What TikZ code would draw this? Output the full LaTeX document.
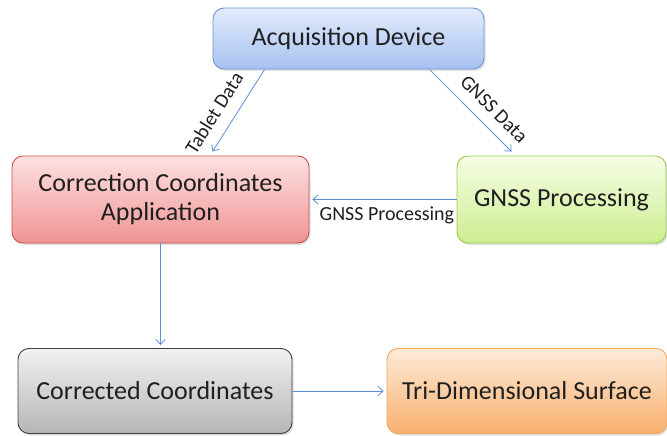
\documentclass[tikz,border=0pt]{standalone}
\usepackage{fontspec}
\setmainfont{Carlito}
\usetikzlibrary{shadows,arrows.meta,calc}
\definecolor{txt}{HTML}{1F1F1F}
\definecolor{arr}{HTML}{5B8FD5}
\tikzset{
  box/.style={draw, line width=0.9pt, rounded corners=11pt, align=center,
    font=\fontsize{26}{29}\selectfont, text=txt,
    drop shadow={shadow xshift=1.5pt, shadow yshift=-2pt, opacity=0.25}},
  bluebox/.style={box, top color={rgb,255:red,226;green,235;blue,251}, bottom color={rgb,255:red,167;green,194;blue,241}, draw={rgb,255:red,111;green,151;blue,214}},
  redbox/.style={box, top color={rgb,255:red,253;green,225;blue,225}, bottom color={rgb,255:red,240;green,148;blue,148}, draw={rgb,255:red,200;green,80;blue,80}},
  greenbox/.style={box, top color={rgb,255:red,246;green,253;blue,230}, bottom color={rgb,255:red,205;green,238;blue,144}, draw={rgb,255:red,155;green,203;blue,75}},
  graybox/.style={box, top color={rgb,255:red,242;green,242;blue,242}, bottom color={rgb,255:red,181;green,181;blue,181}, draw={rgb,255:red,64;green,64;blue,64}},
  orangebox/.style={box, top color={rgb,255:red,254;green,235;blue,217}, bottom color={rgb,255:red,249;green,176;blue,110}, draw={rgb,255:red,242;green,165;blue,97}},
  conn/.style={draw=arr, line width=0.8pt, -{Straight Barb[length=5pt,width=9pt]}},
  lbl/.style={font=\fontsize{20}{22}\selectfont, text=txt, inner sep=2pt}
}
\begin{document}
\begin{tikzpicture}[x=1pt,y=-1pt]
\useasboundingbox (0,0) rectangle (667,436);
\node[bluebox, minimum width=271pt, minimum height=61pt] (acq) at (348.5,38.5) {Acquisition Device};
\node[redbox, minimum width=297pt, minimum height=87pt] (corr) at (160.5,199.5) {Correction Coordinates\\Application};
\node[greenbox, minimum width=209pt, minimum height=87pt] (gnss) at (561.5,199.5) {GNSS Processing};
\node[graybox, minimum width=274pt, minimum height=85pt] (cc) at (155,391) {Corrected Coordinates};
\node[orangebox, minimum width=280pt, minimum height=85pt] (tri) at (527,391) {Tri-Dimensional Surface};

\draw[conn] ([xshift=52pt]acq.south west) -- ([xshift=201pt,yshift=4pt]corr.north west);
\node[lbl, rotate=58] (tl) at (214,113) {Tablet Data};
\draw[conn] ([xshift=217pt]acq.south west) -- ([xshift=55pt,yshift=4pt]gnss.north west);
\node[lbl, rotate=-45] (gl) at (494,109) {GNSS Data};
\draw[conn, shorten >=3pt] (gnss.west) -- node[lbl, pos=0, anchor=north east, yshift=-5pt] {GNSS Processing} (corr.east);
\draw[conn, shorten >=3pt] (corr.south) -- (corr.south |- cc.north);
\draw[conn, shorten >=3pt] (cc.east) -- (tri.west);
\end{tikzpicture}
\end{document}
